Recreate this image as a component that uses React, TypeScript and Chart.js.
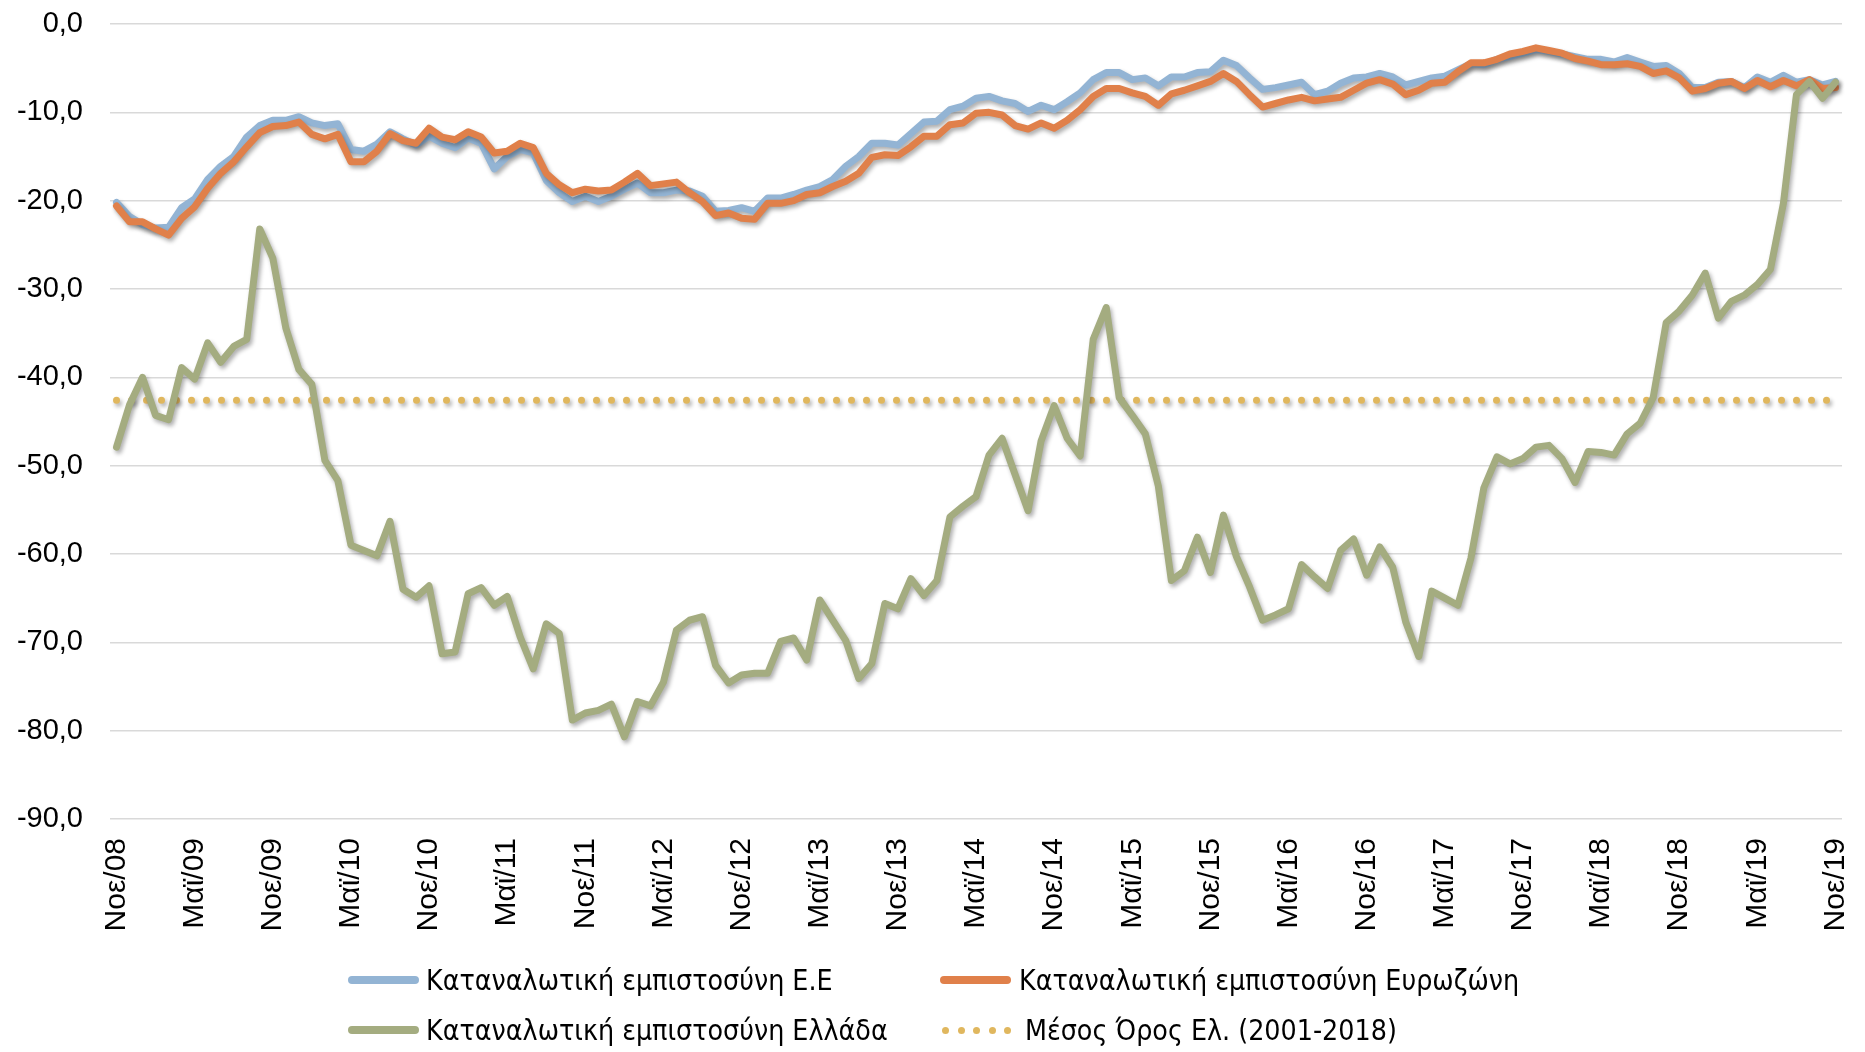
import React, { useEffect, useRef } from 'react';
import { Chart, registerables } from 'chart.js';

Chart.register(...registerables);

// Greek month abbreviations, series starts Nov 2008 and ends Nov 2019 (monthly)
const monthNames = ['Ιαν', 'Φεβ', 'Μαρ', 'Απρ', 'Μαϊ', 'Ιουν', 'Ιουλ', 'Αυγ', 'Σεπ', 'Οκτ', 'Νοε', 'Δεκ'];
const startMonthIndex = 10; // Νοε
const startYear = 8; // 2008
const monthCount = 133;
const categories: string[] = [];
for (let k = 0; k < monthCount; k++) {
  const m = (startMonthIndex + k) % 12;
  const y = startYear + Math.floor((startMonthIndex + k) / 12);
  categories.push(`${monthNames[m]}/${String(y).padStart(2, '0')}`);
}
const tickEvery = 6;

const yTicks = [0, -10, -20, -30, -40, -50, -60, -70, -80, -90];

const euValues = [
  -20.2, -21.8, -22.7, -23.1, -23.0, -20.8, -19.8, -17.6, -16.1, -15.0,
  -12.8, -11.5, -10.9, -10.9, -10.5, -11.2, -11.5, -11.3, -14.2, -14.4,
  -13.6, -12.2, -13.0, -13.7, -12.7, -13.5, -14.0, -12.9, -13.5, -16.4,
  -15.0, -14.2, -14.6, -17.7, -19.1, -20.1, -19.5, -20.1, -19.5, -18.7,
  -18.0, -19.1, -19.1, -18.8, -18.9, -19.5, -21.2, -21.1, -20.8, -21.2,
  -19.7, -19.7, -19.3, -18.8, -18.4, -17.6, -16.1, -15.0, -13.5, -13.5,
  -13.7, -12.4, -11.1, -11.0, -9.7, -9.3, -8.4, -8.2, -8.7, -9.0,
  -9.9, -9.2, -9.7, -8.8, -7.8, -6.3, -5.5, -5.5, -6.3, -6.1,
  -7.0, -6.0, -6.0, -5.5, -5.4, -4.1, -4.7, -6.1, -7.4, -7.2,
  -6.9, -6.6, -8.0, -7.6, -6.7, -6.1, -6.0, -5.6, -6.0, -6.9,
  -6.5, -6.1, -5.9, -5.2, -4.5, -4.6, -4.0, -3.7, -3.3, -2.9,
  -3.1, -3.4, -3.7, -4.0, -4.0, -4.3, -3.8, -4.3, -4.8, -4.7,
  -5.6, -7.2, -7.2, -6.6, -6.5, -7.2, -6.0, -6.6, -5.8, -6.6,
  -6.3, -6.9, -6.5,
];

const eurozoneValues = [
  -20.6, -22.4, -22.4, -23.2, -23.9, -22.0, -20.7, -18.6, -16.9, -15.6,
  -13.9, -12.3, -11.6, -11.5, -11.1, -12.5, -13.0, -12.5, -15.6, -15.6,
  -14.4, -12.4, -13.2, -13.5, -11.8, -12.8, -13.1, -12.2, -12.8, -14.6,
  -14.4, -13.5, -14.0, -16.9, -18.2, -19.1, -18.7, -18.9, -18.8, -17.9,
  -16.9, -18.3, -18.1, -17.9, -19.1, -20.1, -21.7, -21.4, -22.0, -22.1,
  -20.3, -20.3, -20.0, -19.3, -19.1, -18.4, -17.8, -16.9, -15.1, -14.8,
  -14.9, -13.9, -12.7, -12.7, -11.4, -11.2, -10.1, -10.0, -10.3, -11.5,
  -11.9, -11.2, -11.8, -10.9, -9.7, -8.2, -7.3, -7.3, -7.8, -8.2,
  -9.2, -7.9, -7.5, -7.0, -6.5, -5.6, -6.5, -8.0, -9.4, -9.0,
  -8.6, -8.3, -8.7, -8.5, -8.3, -7.5, -6.7, -6.3, -6.8, -8.0,
  -7.5, -6.7, -6.6, -5.4, -4.4, -4.4, -4.0, -3.4, -3.1, -2.7,
  -3.0, -3.3, -3.9, -4.2, -4.6, -4.6, -4.5, -4.8, -5.6, -5.3,
  -6.1, -7.6, -7.3, -6.7, -6.5, -7.3, -6.4, -7.1, -6.4, -7.0,
  -6.3, -7.3, -7.2,
];

const greeceValues = [
  -47.9, -43.1, -40.0, -44.3, -44.8, -38.9, -40.2, -36.1, -38.3, -36.5,
  -35.7, -23.2, -26.5, -34.4, -39.1, -40.8, -49.4, -51.7, -59.0, -59.6,
  -60.2, -56.3, -64.0, -64.9, -63.6, -71.3, -71.1, -64.5, -63.8, -65.8,
  -64.8, -69.4, -73.0, -67.9, -69.0, -78.8, -78.0, -77.7, -77.0, -80.7,
  -76.7, -77.2, -74.5, -68.6, -67.5, -67.1, -72.6, -74.6, -73.7, -73.5,
  -73.5, -69.9, -69.5, -72.0, -65.2, -67.5, -69.8, -74.1, -72.4, -65.6,
  -66.2, -62.8, -64.7, -63.0, -55.8, -54.6, -53.5, -48.8, -46.9, -51.0,
  -55.1, -47.2, -43.2, -46.9, -48.9, -35.7, -32.1, -42.3, -44.3, -46.4,
  -52.3, -63.0, -61.9, -58.1, -62.1, -55.6, -60.3, -63.7, -67.5, -66.9,
  -66.2, -61.2, -62.6, -63.9, -59.6, -58.3, -62.4, -59.2, -61.5, -67.7,
  -71.6, -64.2, -65.0, -65.8, -60.5, -52.5, -49.0, -49.8, -49.2, -47.9,
  -47.7, -49.2, -51.9, -48.4, -48.5, -48.8, -46.4, -45.2, -42.3, -33.8,
  -32.5, -30.7, -28.2, -33.3, -31.4, -30.7, -29.5, -27.8, -20.3, -8.0,
  -6.5, -8.4, -6.6,
];

const greeceAverage = -42.6;

const seriesNames = [
  'Καταναλωτική εμπιστοσύνη Ε.Ε',
  'Καταναλωτική εμπιστοσύνη Ευρωζώνη',
  'Καταναλωτική εμπιστοσύνη Ελλάδα',
  'Μέσος Όρος Ελ. (2001-2018)',
];

const COLORS = {
  eu: '#93B4D4',
  ez: '#E0804A',
  gr: '#A4AC80',
  avg: '#E0B75E',
  grid: '#D9D9D9',
};

const shadowPlugin = {
  id: 'lineShadow',
  beforeDatasetDraw(chart: any) {
    const ctx = chart.ctx;
    ctx.save();
    ctx.shadowColor = 'rgba(0,0,0,0.32)';
    ctx.shadowBlur = 4;
    ctx.shadowOffsetX = 2;
    ctx.shadowOffsetY = 3;
  },
  afterDatasetDraw(chart: any) {
    chart.ctx.restore();
  },
};

const fmt = (v: number) => (Math.abs(v) < 1e-9 ? '0,0' : v.toFixed(1).replace('.', ','));

export default function App() {
  const canvasRef = useRef<HTMLCanvasElement | null>(null);

  useEffect(() => {
    if (!canvasRef.current) return;
    const lineCommon = {
      pointRadius: 0,
      pointHoverRadius: 0,
      tension: 0,
      borderWidth: 7,
      borderJoinStyle: 'round' as const,
      borderCapStyle: 'round' as const,
      fill: false,
    };
    const chart = new Chart(canvasRef.current, {
      type: 'line',
      data: {
        labels: categories,
        datasets: [
          { ...lineCommon, label: seriesNames[0], data: euValues, borderColor: COLORS.eu, order: 2 },
          { ...lineCommon, label: seriesNames[1], data: eurozoneValues, borderColor: COLORS.ez, order: 1 },
          { ...lineCommon, label: seriesNames[2], data: greeceValues, borderColor: COLORS.gr, order: 0 },
          {
            ...lineCommon,
            label: seriesNames[3],
            data: categories.map(() => greeceAverage),
            borderColor: COLORS.avg,
            borderWidth: 7,
            borderDash: [0, 15],
            order: 3,
          },
        ],
      },
      options: {
        animation: false,
        responsive: false,
        maintainAspectRatio: false,
        layout: { padding: { left: 0, right: 23, top: 24, bottom: 0 } },
        plugins: {
          legend: { display: false },
          tooltip: { enabled: false },
          title: { display: false },
        },
        scales: {
          x: {
            type: 'category',
            offset: true,
            grid: { display: false, drawTicks: false },
            border: { display: false },
            ticks: {
              autoSkip: false,
              maxRotation: 90,
              minRotation: 90,
              padding: 19,
              color: '#000',
              font: { family: "'Liberation Sans', Arial, sans-serif", size: 30 },
              callback: (_v: any, index: number) => (index % tickEvery === 0 ? categories[index] : null),
            },
            afterFit: (scale: any) => {
              scale.height = 233;
              scale.paddingLeft = 0;
              scale.paddingRight = 0;
            },
          },
          y: {
            min: -90,
            max: 0,
            afterBuildTicks: (scale: any) => {
              scale.ticks = yTicks.map((v) => ({ value: v }));
            },
            grid: { color: COLORS.grid, lineWidth: 1.6, drawTicks: false },
            border: { display: false },
            ticks: {
              padding: 27,
              color: '#000',
              font: { family: "'Liberation Sans', Arial, sans-serif", size: 29 },
              callback: (v: any) => fmt(Number(v)),
            },
            afterFit: (scale: any) => {
              scale.width = 110;
              scale.paddingTop = 0;
              scale.paddingBottom = 0;
            },
          },
        },
      },
      plugins: [shadowPlugin],
    });
    return () => chart.destroy();
  }, []);

  const legendFont = "'Liberation Sans Narrow', 'DejaVu Sans Condensed', 'Liberation Sans', sans-serif";
  const textStyle = (left: number, cy: number): React.CSSProperties => ({
    position: 'absolute',
    left,
    top: cy,
    transform: 'translateY(-50%)',
    fontFamily: legendFont,
    fontSize: 28.3,
    lineHeight: '36px',
    color: '#000',
    whiteSpace: 'nowrap',
  });
  const swatch = (left: number, cy: number, color: string): React.CSSProperties => ({
    position: 'absolute',
    left,
    top: cy - 4,
    width: 71,
    height: 8,
    borderRadius: 4,
    background: color,
  });
  const dotXs = [945, 961, 976, 992, 1007];

  return (
    <div style={{ position: 'absolute', left: 0, top: 0, width: 1865, height: 1052, background: '#fff' }}>
      <canvas ref={canvasRef} width={1865} height={1052} style={{ display: 'block', width: 1865, height: 1052 }} />
      <div style={swatch(348, 980, COLORS.eu)} />
      <div style={textStyle(426, 981)}>{seriesNames[0]}</div>
      <div style={swatch(940, 980, COLORS.ez)} />
      <div style={textStyle(1019, 981)}>{seriesNames[1]}</div>
      <div style={swatch(348, 1030, COLORS.gr)} />
      <div style={textStyle(426, 1031)}>{seriesNames[2]}</div>
      {dotXs.map((x) => (
        <div
          key={x}
          style={{
            position: 'absolute',
            left: x - 3.5,
            top: 1030 - 3.5,
            width: 7,
            height: 7,
            borderRadius: '50%',
            background: COLORS.avg,
          }}
        />
      ))}
      <div style={textStyle(1025, 1031)}>{seriesNames[3]}</div>
    </div>
  );
}
